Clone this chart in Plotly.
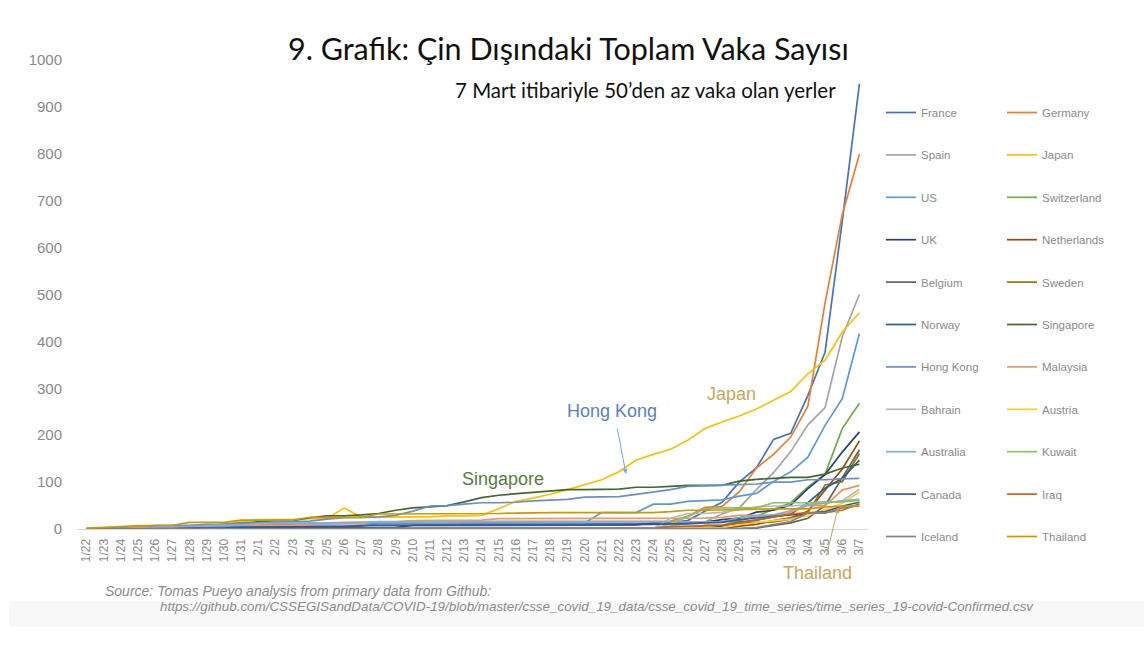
import plotly.graph_objects as go

dates = ["1/22", "1/23", "1/24", "1/25", "1/26", "1/27", "1/28", "1/29", "1/30", "1/31",
         "2/1", "2/2", "2/3", "2/4", "2/5", "2/6", "2/7", "2/8", "2/9", "2/10",
         "2/11", "2/12", "2/13", "2/14", "2/15", "2/16", "2/17", "2/18", "2/19", "2/20",
         "2/21", "2/22", "2/23", "2/24", "2/25", "2/26", "2/27", "2/28", "2/29",
         "3/1", "3/2", "3/3", "3/4", "3/5", "3/6", "3/7"]

france = [0, 0, 2, 3, 3, 3, 4, 5, 5, 5, 6, 6, 6, 6, 6, 6, 6, 11, 11, 11,
          11, 11, 11, 11, 12, 12, 12, 12, 12, 12, 12, 12, 12, 12, 14, 18, 38, 57, 100,
          130, 191, 204, 285, 377, 656, 949]
germany = [0, 0, 0, 0, 0, 1, 4, 4, 4, 5, 8, 10, 12, 12, 12, 12, 13, 13, 14, 14,
           16, 16, 16, 16, 16, 16, 16, 16, 16, 16, 16, 16, 16, 16, 17, 27, 46, 48, 79,
           130, 159, 196, 262, 482, 670, 799]
spain = [0, 0, 0, 0, 0, 0, 0, 0, 0, 0, 1, 1, 1, 1, 1, 1, 1, 1, 2, 2,
         2, 2, 2, 2, 2, 2, 2, 2, 2, 2, 2, 2, 2, 2, 6, 13, 15, 32, 45,
         84, 120, 165, 222, 259, 410, 500]
japan = [2, 1, 2, 2, 4, 4, 7, 7, 11, 15, 20, 20, 20, 22, 22, 45, 25, 25, 26, 26,
         26, 28, 28, 29, 43, 59, 66, 74, 84, 94, 105, 122, 147, 159, 170, 189, 214, 228, 241,
         256, 274, 293, 331, 360, 420, 461]
us = [1, 1, 2, 2, 5, 5, 5, 5, 5, 7, 8, 8, 11, 11, 11, 11, 11, 11, 11, 11,
      12, 12, 13, 13, 13, 13, 13, 13, 13, 13, 35, 35, 35, 53, 53, 59, 60, 62, 70,
      76, 101, 122, 153, 221, 278, 417]
switzerland = [0, 0, 0, 0, 0, 0, 0, 0, 0, 0, 0, 0, 0, 0, 0, 0, 0, 0, 0, 0,
               0, 0, 0, 0, 0, 0, 0, 0, 0, 0, 0, 0, 0, 0, 1, 1, 8, 8, 18,
               27, 42, 56, 90, 117, 214, 268]
uk = [0, 0, 0, 0, 0, 0, 0, 0, 0, 2, 2, 2, 2, 2, 2, 2, 3, 3, 3, 8,
      8, 9, 9, 9, 9, 9, 9, 9, 9, 9, 9, 9, 9, 13, 13, 13, 15, 20, 23,
      36, 40, 51, 86, 116, 164, 207]
netherlands = [0, 0, 0, 0, 0, 0, 0, 0, 0, 0, 0, 0, 0, 0, 0, 0, 0, 0, 0, 0,
               0, 0, 0, 0, 0, 0, 0, 0, 0, 0, 0, 0, 0, 0, 0, 0, 1, 1, 6,
               10, 18, 24, 38, 82, 128, 188]
belgium = [0, 0, 0, 0, 0, 0, 0, 0, 0, 0, 0, 0, 0, 1, 1, 1, 1, 1, 1, 1,
           1, 1, 1, 1, 1, 1, 1, 1, 1, 1, 1, 1, 1, 1, 1, 1, 1, 1, 1,
           2, 8, 13, 23, 50, 109, 169]
sweden = [0, 0, 0, 0, 0, 0, 0, 0, 0, 1, 1, 1, 1, 1, 1, 1, 1, 1, 1, 1,
          1, 1, 1, 1, 1, 1, 1, 1, 1, 1, 1, 1, 1, 1, 1, 2, 7, 7, 12,
          14, 15, 21, 35, 94, 101, 161]
norway = [0, 0, 0, 0, 0, 0, 0, 0, 0, 0, 0, 0, 0, 0, 0, 0, 0, 0, 0, 0,
          0, 0, 0, 0, 0, 0, 0, 0, 0, 0, 0, 0, 0, 0, 0, 1, 1, 6, 15,
          19, 25, 32, 56, 87, 108, 147]
singapore = [0, 1, 3, 3, 4, 5, 7, 7, 10, 13, 16, 18, 18, 24, 28, 28, 30, 33, 40, 45,
             47, 50, 58, 67, 72, 75, 77, 81, 84, 84, 85, 85, 89, 89, 91, 93, 93, 93, 102,
             106, 108, 110, 110, 117, 130, 138]
hong_kong = [0, 2, 2, 5, 8, 8, 8, 10, 10, 12, 13, 15, 15, 17, 21, 24, 25, 26, 29, 38,
             49, 50, 53, 56, 56, 57, 60, 62, 63, 68, 68, 69, 74, 79, 84, 91, 92, 94, 95,
             96, 100, 100, 105, 105, 107, 108]
malaysia = [0, 0, 0, 3, 4, 4, 4, 7, 8, 8, 8, 8, 8, 10, 12, 12, 12, 16, 16, 18,
            18, 18, 19, 19, 22, 22, 22, 22, 22, 22, 22, 22, 22, 22, 22, 22, 23, 25, 29,
            29, 29, 36, 50, 50, 83, 93]
bahrain = [0, 0, 0, 0, 0, 0, 0, 0, 0, 0, 0, 0, 0, 0, 0, 0, 0, 0, 0, 0,
           0, 0, 0, 0, 0, 0, 0, 0, 0, 0, 0, 0, 0, 1, 23, 33, 33, 36, 41,
           47, 49, 49, 52, 55, 60, 85]
austria = [0, 0, 0, 0, 0, 0, 0, 0, 0, 0, 0, 0, 0, 0, 0, 0, 0, 0, 0, 0,
           0, 0, 0, 0, 0, 0, 0, 0, 0, 0, 0, 0, 0, 0, 2, 2, 3, 3, 9,
           14, 18, 21, 29, 41, 55, 79]
australia = [0, 0, 0, 0, 4, 5, 5, 6, 9, 9, 12, 12, 12, 13, 13, 14, 15, 15, 15, 15,
             15, 15, 15, 15, 15, 15, 15, 15, 15, 15, 15, 15, 15, 15, 15, 15, 15, 15, 25,
             27, 30, 39, 52, 55, 60, 63]
kuwait = [0, 0, 0, 0, 0, 0, 0, 0, 0, 0, 0, 0, 0, 0, 0, 0, 0, 0, 0, 0,
          0, 0, 0, 0, 0, 0, 0, 0, 0, 1, 1, 1, 1, 1, 11, 26, 43, 45, 45,
          45, 56, 56, 56, 58, 58, 61]
canada = [0, 0, 0, 0, 1, 1, 2, 2, 2, 4, 4, 4, 4, 5, 5, 5, 7, 7, 7, 7,
          7, 7, 7, 7, 7, 7, 7, 7, 7, 8, 8, 9, 9, 10, 11, 11, 13, 14, 20,
          24, 27, 30, 33, 37, 49, 57]
iraq = [0, 0, 0, 0, 0, 0, 0, 0, 0, 0, 0, 0, 0, 0, 0, 0, 0, 0, 0, 0,
        0, 0, 0, 0, 0, 0, 0, 0, 0, 0, 0, 0, 0, 1, 5, 6, 7, 8, 13,
        19, 26, 32, 35, 35, 40, 54]
iceland = [0, 0, 0, 0, 0, 0, 0, 0, 0, 0, 0, 0, 0, 0, 0, 0, 0, 0, 0, 0,
           0, 0, 0, 0, 0, 0, 0, 0, 0, 0, 0, 0, 0, 0, 0, 0, 0, 1, 1,
           3, 9, 16, 34, 34, 45, 50]
thailand = [2, 3, 5, 7, 8, 8, 14, 14, 14, 19, 19, 19, 19, 25, 25, 25, 25, 32, 32, 32,
            33, 33, 33, 33, 33, 34, 35, 35, 35, 35, 35, 35, 35, 35, 37, 40, 40, 41, 42,
            42, 43, 43, 43, 47, 48, 50]

countries = ["France", "Germany", "Spain", "Japan", "US", "Switzerland", "UK", "Netherlands",
             "Belgium", "Sweden", "Norway", "Singapore", "Hong Kong", "Malaysia", "Bahrain",
             "Austria", "Australia", "Kuwait", "Canada", "Iraq", "Iceland", "Thailand"]
series = [france, germany, spain, japan, us, switzerland, uk, netherlands,
          belgium, sweden, norway, singapore, hong_kong, malaysia, bahrain,
          austria, australia, kuwait, canada, iraq, iceland, thailand]
colors = ["#4472C4", "#ED7D31", "#A5A5A5", "#FFC000", "#5B9BD5", "#70AD47", "#264478", "#9E480E",
          "#636363", "#997300", "#255E91", "#43682B", "#698ED0", "#F1975A", "#B7B7B7",
          "#FFCD33", "#7CAFDD", "#8CC168", "#335AA1", "#D26012", "#848484", "#CC9A00"]

yticks = [0, 100, 200, 300, 400, 500, 600, 700, 800, 900, 1000]

W, H = 1144, 652
L, R, T, B = 78, 276, 60, 123
PW, PH = W - L - R, H - T - B


def px(x):
    return (x - L) / PW


def py(y):
    return (H - B - y) / PH


fig = go.Figure()
for i, (name, vals, col) in enumerate(zip(countries, series, colors)):
    fig.add_trace(go.Scatter(
        x=dates, y=vals, mode="lines", name=name,
        line=dict(color=col, width=1.7),
        legend="legend" if i % 2 == 0 else "legend2",
        legendgroup=name,
    ))

legend_font = dict(family="Liberation Sans, Arial, sans-serif", size=11.5, color="#8a8a8a")
common_legend = dict(yanchor="top", xanchor="left", font=legend_font, tracegroupgap=23.4,
                     bgcolor="rgba(0,0,0,0)", itemwidth=30, traceorder="grouped")

fig.update_layout(
    width=W, height=H,
    margin=dict(l=L, r=R, t=T, b=B),
    plot_bgcolor="white", paper_bgcolor="white",
    showlegend=True,
    legend=dict(x=px(881), y=py(98), **common_legend),
    legend2=dict(x=px(1002), y=py(98), **common_legend),
    xaxis=dict(
        type="category", range=[-0.5, len(dates) - 0.5],
        tickmode="array", tickvals=dates, ticktext=dates,
        tickangle=-90, showgrid=False, zeroline=False,
        showline=True, linecolor="#d9d9d9", linewidth=1,
        ticks="", ticklabelstandoff=4,
        tickfont=dict(family="Liberation Sans, Arial, sans-serif", size=12, color="#8a8a8a"),
    ),
    yaxis=dict(
        range=[0, 1000], tickmode="array", tickvals=yticks,
        showgrid=False, zeroline=False, showline=False, ticks="",
        ticklabelstandoff=15,
        tickfont=dict(family="Liberation Sans, Arial, sans-serif", size=15, color="#8a8a8a"),
    ),
)

# bottom light band
fig.add_shape(type="rect", xref="paper", yref="paper", x0=px(9), x1=px(1144), y0=py(627), y1=py(601),
              fillcolor="#f8f8f8", line=dict(width=0), layer="below")

ann_font = "Liberation Sans, Arial, sans-serif"
anns = [
    dict(text="9. Grafik: Çin Dışındaki Toplam Vaka Sayısı", x=px(568), y=py(48),
         font=dict(family="Lato, Open Sans, sans-serif", size=30.5, color="#111111")),
    dict(text="7 Mart itibariyle 50’den az vaka olan yerler", x=px(645), y=py(90),
         font=dict(family="Lato, Open Sans, sans-serif", size=20.5, color="#111111")),
    dict(text="Japan", x=px(731), y=py(394), font=dict(family=ann_font, size=18, color="#C8A858")),
    dict(text="Hong Kong", x=px(612), y=py(411), font=dict(family=ann_font, size=18, color="#5B7EC0")),
    dict(text="Singapore", x=px(503), y=py(479), font=dict(family=ann_font, size=18, color="#5A7A3E")),
    dict(text="Thailand", x=px(817), y=py(573), font=dict(family=ann_font, size=18, color="#C9A55C")),
    dict(text="Source: Tomas Pueyo analysis from primary data from Github:", x=px(103), y=py(591),
         xanchor="left", font=dict(family=ann_font, size=14, color="#8c8c8c", style="italic")),
    dict(text="https://github.com/CSSEGISandData/COVID-19/blob/master/csse_covid_19_data/csse_covid_19_time_series/time_series_19-covid-Confirmed.csv",
         x=px(158), y=py(606), xanchor="left",
         font=dict(family=ann_font, size=13.4, color="#8c8c8c", style="italic")),
]
for a in anns:
    a.setdefault("xanchor", "center")
    fig.add_annotation(xref="paper", yref="paper", yanchor="middle", showarrow=False, **a)

# arrows
fig.add_annotation(xref="paper", yref="paper", x=px(626), y=py(474), ax=-9, ay=-47,
                   showarrow=True, arrowhead=2, arrowsize=1, arrowwidth=1, arrowcolor="#7FA2D6", text="")
fig.add_annotation(xref="paper", yref="paper", x=px(838), y=py(508), ax=-12, ay=49,
                   showarrow=True, arrowhead=2, arrowsize=1, arrowwidth=1, arrowcolor="#C9A55C", text="")

fig.write_html("out.html")
